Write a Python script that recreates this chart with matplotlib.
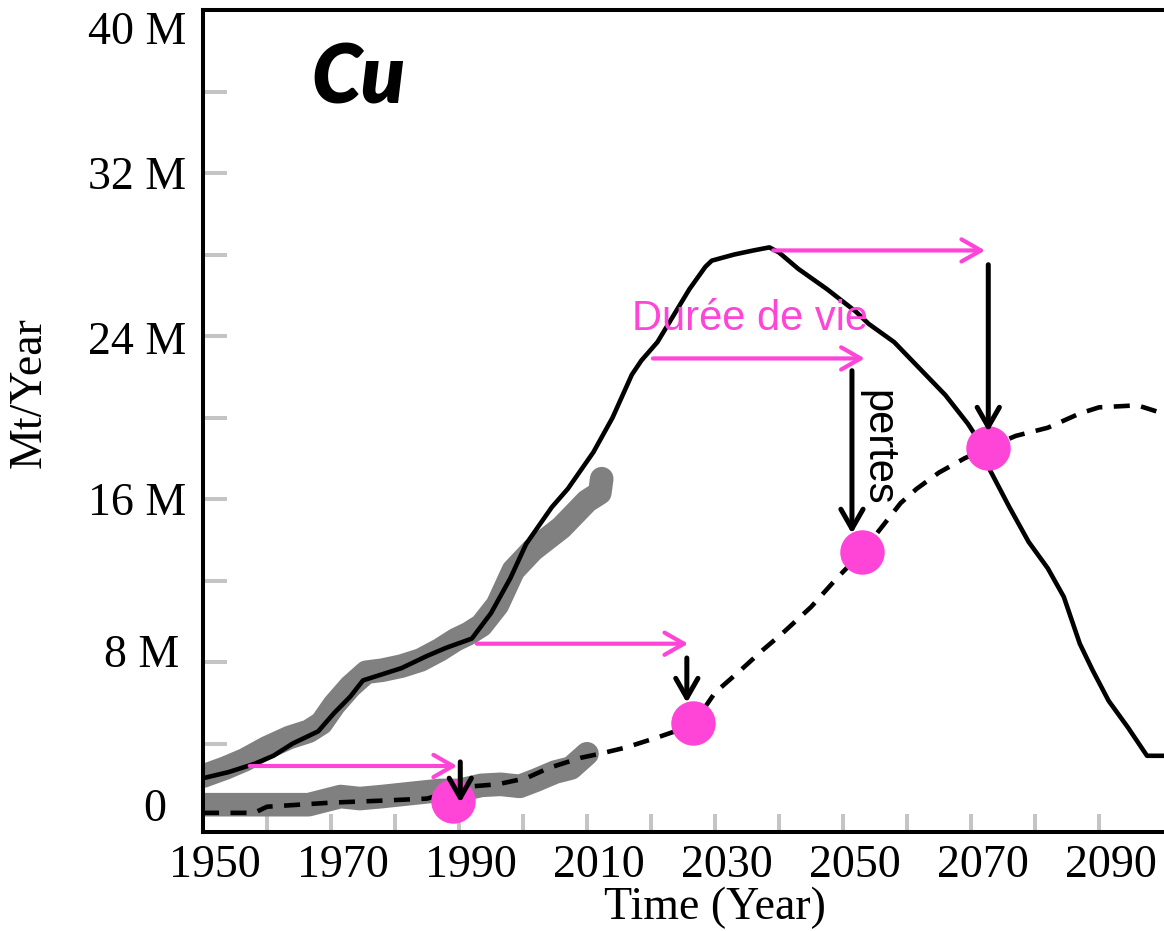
import numpy as np
import matplotlib
matplotlib.use('Agg')
import matplotlib.pyplot as plt
import matplotlib.transforms as mtransforms
from matplotlib.patches import FancyArrowPatch

# model flows (Mt/year)
model_years = [1950, 1954, 1958, 1961, 1964, 1968, 1970.5, 1973, 1975, 1977, 1981, 1985,
               1988, 1992, 1995, 1998, 2000.5, 2004.5, 2007, 2009, 2011, 2014, 2017,
               2018.5, 2021, 2023.5, 2026, 2028.5, 2029.5, 2033, 2036, 2038.5, 2040,
               2043, 2047.5, 2052, 2054, 2058, 2062, 2066, 2069.5, 2072, 2073, 2076,
               2079, 2082, 2084.5, 2087, 2089, 2091.5, 2094.5, 2097.5, 2110]
model_use = [2.3, 2.6, 3.0, 3.4, 4.0, 4.6, 5.5, 6.3, 7.1, 7.3, 7.7, 8.3,
             8.7, 9.15, 10.4, 12.1, 13.8, 15.6, 16.5, 17.4, 18.3, 20.0, 22.1,
             22.8, 23.7, 25.0, 26.3, 27.4, 27.7, 28.0, 28.2, 28.35, 28.1,
             27.3, 26.3, 25.2, 24.6, 23.7, 22.4, 21.1, 19.7, 18.5, 17.4, 15.6,
             13.9, 12.6, 11.2, 8.9, 7.6, 6.1, 4.8, 3.4, 3.4]

scrap_years = [1950, 1958, 1960, 1970, 1978, 1985, 1992, 1996, 2000.5, 2004, 2009, 2012,
               2016, 2021, 2026.5, 2030, 2034, 2037.5, 2040.5, 2045, 2049, 2053, 2056,
               2059, 2061.5, 2065, 2069, 2072.5, 2077, 2082, 2087, 2090, 2096, 2100, 2104]
scrap_flow = [0.6, 0.6, 0.9, 1.1, 1.2, 1.3, 1.9, 2.0, 2.3, 2.8, 3.3, 3.5,
              3.8, 4.3, 4.9, 6.5, 7.6, 8.6, 9.4, 10.7, 12.1, 13.4, 14.6,
              15.8, 16.5, 17.3, 18.0, 18.5, 19.1, 19.5, 20.2, 20.5, 20.6, 20.2, 19.6]

# historical data
hist_years = [1950, 1953.5, 1956.5, 1960, 1963.5, 1966.5, 1968.5, 1970.5, 1973, 1975.5,
              1978, 1981, 1984, 1987, 1989.5, 1991.5, 1993.5, 1996, 1998.5, 2001.5,
              2006, 2010, 2012, 2012.3]
hist_use = [2.4, 2.8, 3.2, 3.8, 4.3, 4.6, 5.0, 5.9, 6.8, 7.5,
            7.6, 7.8, 8.1, 8.6, 9.1, 9.4, 9.8, 10.8, 12.5, 13.5,
            14.6, 15.9, 16.3, 17.0]
hist_scrap_years = [1950, 1966.5, 1971.5, 1974.5, 1978, 1981, 1984, 1987, 1990, 1993.5,
                    1996.5, 1999.5, 2002, 2005, 2007.5, 2010]
hist_scrap = [1.0, 1.0, 1.4, 1.3, 1.4, 1.5, 1.6, 1.7, 1.7, 1.95,
              2.0, 1.9, 2.2, 2.6, 2.8, 3.5]

# lifetime shifts and losses
dot_years = [1989, 2026.6, 2053, 2072.7]
dot_values = [1.2, 5.0, 13.4, 18.5]
life_start = [1957.3, 1992.8, 2020.3, 2039.1]
life_end = [1989.7, 2025.8, 2053.4, 2072.2]
life_level = [2.9, 8.9, 22.9, 28.2]
loss_years = [1990.2, 2025.6, 2051.4, 2072.7]
loss_from = [3.1, 8.2, 22.3, 27.5]
loss_to = [1.1, 6.0, 14.3, 19.3]

xlabel_years = [1950, 1970, 1990, 2010, 2030, 2050, 2070, 2090]
ylabel_values = [0, 8, 16, 24, 32, 40]
ylabel_text = ['0', '8 M', '16 M', '24 M', '32 M', '40 M']

magenta = '#ff44d8'
serif = 'Liberation Serif'

fig = plt.figure(figsize=(11.64, 9.31), dpi=100)
ax = fig.add_axes([203 / 1164, 99 / 931, 1024 / 1164, 822 / 931])
ax.set_xlim(1950, 2110)
ax.set_ylim(-0.34, 39.87)

ax.plot(hist_years, hist_use, color='#808080', lw=17, solid_capstyle='round',
        solid_joinstyle='round', zorder=2)
ax.plot(hist_scrap_years, hist_scrap, color='#808080', lw=17, solid_capstyle='round',
        solid_joinstyle='round', zorder=2)
ax.plot(model_years, model_use, color='black', lw=3.3, zorder=3)
ax.plot(scrap_years, scrap_flow, color='black', lw=3.3, dashes=(3.5, 2.5), zorder=3)

for x0, x1, y in zip(life_start, life_end, life_level):
    ax.add_patch(FancyArrowPatch((x0, y), (x1, y), arrowstyle='->,head_length=1.4,head_width=0.8',
                                 mutation_scale=10, color=magenta, lw=3, shrinkA=0, shrinkB=0,
                                 zorder=4))
for x, y0, y1 in zip(loss_years, loss_from, loss_to):
    ax.add_patch(FancyArrowPatch((x, y0), (x, y1), arrowstyle='->,head_length=1.4,head_width=0.8',
                                 mutation_scale=10, color='black', lw=3.6, shrinkA=0, shrinkB=0,
                                 zorder=6))

ax.plot(dot_years, dot_values, 'o', color=magenta, ms=32, mec='none', zorder=5)

ax.text(1966.9, 35.4, 'Cu', family='Lato', weight='heavy', style='italic',
        fontsize=58, va='baseline', ha='left')
ax.text(2017, 24.3, 'Durée de vie', family='Liberation Sans', color=magenta,
        fontsize=30, va='baseline', ha='left')
ax.text(2055.3, 18.5, 'pertes', family='Liberation Sans', color='black',
        fontsize=30, rotation=-90, va='center', ha='center')

# axes frame, right side runs off the figure
for side in ['left', 'bottom', 'top', 'right']:
    ax.spines[side].set_linewidth(2.9)

ax.set_xticks(xlabel_years, [str(y) for y in xlabel_years])
ax.set_xticks(np.arange(1960, 2100, 10), minor=True)
ax.set_yticks(ylabel_values, ylabel_text)
ax.set_yticks(np.arange(4, 40, 4), minor=True)
ax.xaxis.remove_overlapping_locs = False
ax.yaxis.remove_overlapping_locs = False
ax.tick_params(which='major', length=0)
ax.tick_params(axis='x', which='major', pad=9, labelsize=33)
ax.tick_params(axis='y', which='major', pad=12, labelsize=33)
ax.tick_params(axis='x', which='minor', direction='in', length=13, width=2.9, color='#c4c4c4')
ax.tick_params(axis='y', which='minor', direction='in', length=17, width=2.9, color='#c4c4c4')
for lab in ax.get_xticklabels() + ax.get_yticklabels():
    lab.set_family(serif)

# nudge labels off their tick positions
for lab in ax.get_xticklabels():
    lab.set_transform(lab.get_transform() + mtransforms.ScaledTranslation(0.12, 0, fig.dpi_scale_trans))
ylab_shift = [(-0.2, 0.2), (-0.07, 0.11), (0, 0), (0, -0.02), (0, 0), (0, -0.18)]
for lab, (dx, dy) in zip(ax.get_yticklabels(), ylab_shift):
    lab.set_transform(lab.get_transform() + mtransforms.ScaledTranslation(dx, dy, fig.dpi_scale_trans))

ax.set_xlabel('Time (Year)', family=serif, fontsize=33)
ax.xaxis.set_label_coords(0.5, -0.066)
ax.set_ylabel('Mt/Year', family=serif, fontsize=33)
ax.yaxis.set_label_coords(-0.149, 0.535)

fig.savefig('out.png', dpi=100)
